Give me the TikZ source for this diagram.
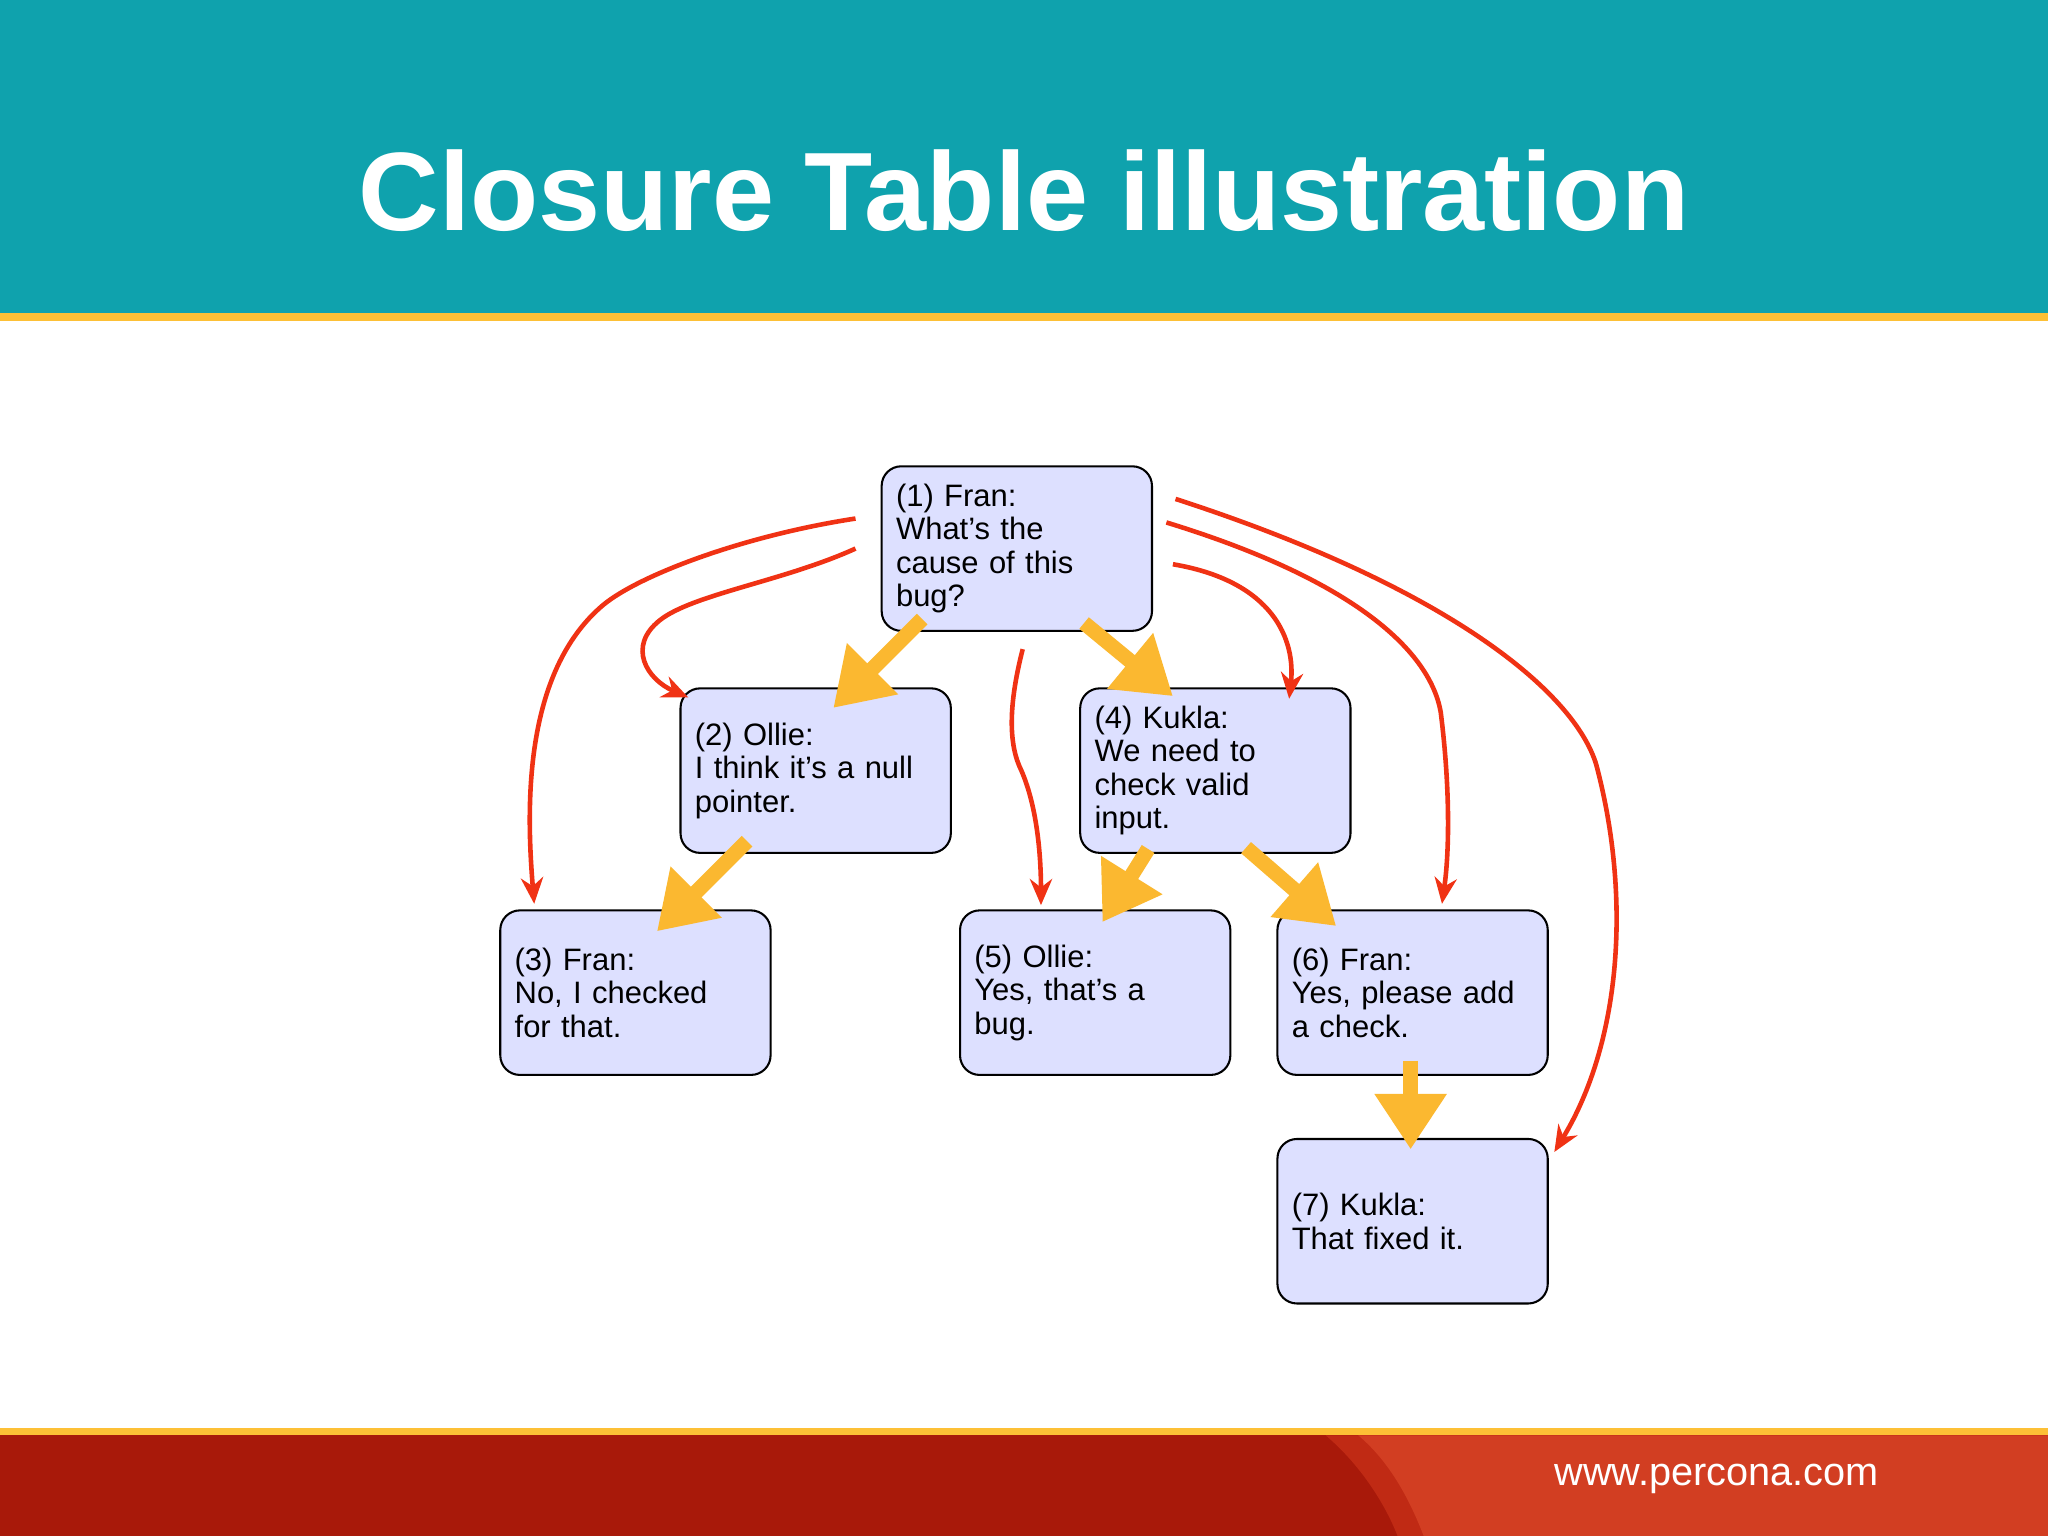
\documentclass[tikz,border=0pt]{standalone}
\usepackage{fontspec}
\setmainfont{Liberation Sans}
\usetikzlibrary{arrows.meta}
\definecolor{teal}{HTML}{0FA2AD}
\definecolor{gold}{HTML}{FDC036}
\definecolor{ybar}{HTML}{FBB830}
\definecolor{redA}{HTML}{A8190A}
\definecolor{redB}{HTML}{C02A14}
\definecolor{redC}{HTML}{D23E22}
\definecolor{boxfill}{HTML}{DDE0FF}
\definecolor{rarrow}{HTML}{F03214}
\tikzset{
  msg/.style={draw=black, line width=0.9pt, fill=boxfill, rounded corners=0.3cm,
    minimum width=4.14cm, minimum height=2.52cm, text width=3.7cm, align=left,
    font=\fontsize{13.5}{14.6}\selectfont, inner sep=0pt},
  yarr/.style={draw=ybar, line width=6.5pt, -{Triangle[width=1.05cm,length=0.85cm]}},
  rarr/.style={draw=rarrow, line width=2pt, -{Stealth[width=0.34cm,length=0.4cm]}}
}
\begin{document}
\begin{tikzpicture}[x=0.02cm,y=-0.02cm]
\useasboundingbox (0,0) rectangle (1568,1176);
\fill[white] (0,0) rectangle (1568,1176);
\fill[teal] (0,0) rectangle (1568,240);
\fill[gold] (0,240) rectangle (1568,246);
\node[text=white, font=\bfseries\fontsize{48.6}{54}\selectfont] (title) at (784,146) {Closure Table illustration};
\fill[gold] (0,1093) rectangle (1568,1099);
\fill[redA] (0,1099) rectangle (1568,1176);
\fill[redB] (1015,1099) .. controls (1040,1120) and (1060,1150) .. (1070,1176) -- (1568,1176) -- (1568,1099) -- cycle;
\fill[redC] (1040,1099) .. controls (1065,1120) and (1080,1150) .. (1090,1176) -- (1568,1176) -- (1568,1099) -- cycle;
\node[text=white, font=\fontsize{17.3}{20}\selectfont, anchor=west] (url) at (1184,1132) {www.percona.com};

\node[msg] (n1) at (778.5,420) {(1) Fran:\\What’s the\\cause of this\\bug?};
\node[msg] (n2) at (624.5,590) {(2) Ollie:\\I think it’s a null\\pointer.};
\node[msg] (n3) at (486.5,760) {(3) Fran:\\No, I checked\\for that.};
\node[msg] (n4) at (930.5,590) {(4) Kukla:\\We need to\\check valid\\input.};
\node[msg] (n5) at (838.5,760) {(5) Ollie:\\Yes, that’s a\\bug.};
\node[msg] (n6) at (1081.5,760) {(6) Fran:\\Yes, please add\\a check.};
\node[msg] (n7) at (1081.5,935) {(7) Kukla:\\That fixed it.};

% yellow parent arrows
\coordinate (a1) at (706,474); \coordinate (b1) at (638,542);
\coordinate (a2) at (830,477); \coordinate (b2) at (898,533);
\coordinate (a3) at (572,644); \coordinate (b3) at (503,713);
\coordinate (a4) at (879,650); \coordinate (b4) at (844,706);
\coordinate (a5) at (954,649); \coordinate (b5) at (1023,709);
\coordinate (a6) at (1080,812); \coordinate (b6) at (1080,880);
\draw[yarr] (a1) -- (b1);
\draw[yarr] (a2) -- (b2);
\draw[yarr] (a3) -- (b3);
\draw[yarr] (a4) -- (b4);
\draw[yarr] (a5) -- (b5);
\draw[yarr] (a6) -- (b6);

% red ancestor arrows
\coordinate (r1s) at (655,397); \coordinate (r1e) at (409,692);
\draw[rarr] (r1s) .. controls (570,410) and (490,440) .. (462,463) .. controls (400,515) and (403,620) .. (r1e);
\coordinate (r2s) at (655,420); \coordinate (r2e) at (527,534);
\draw[rarr] (r2s) .. controls (600,445) and (530,455) .. (505,475) .. controls (480,495) and (495,520) .. (r2e);
\coordinate (r3s) at (783,497); \coordinate (r3e) at (797,693);
\draw[rarr] (r3s) .. controls (772,540) and (772,570) .. (782,590) .. controls (795,620) and (797,660) .. (r3e);
\coordinate (r4s) at (898,432); \coordinate (r4e) at (987,535);
\draw[rarr] (r4s) .. controls (975,445) and (992,490) .. (r4e);
\coordinate (r5s) at (893,400); \coordinate (r5e) at (1104,692);
\draw[rarr] (r5s) .. controls (1040,445) and (1095,500) .. (1103,545) .. controls (1110,600) and (1110,650) .. (r5e);
\coordinate (r6s) at (900,382); \coordinate (r6e) at (1190,882);
\draw[rarr] (r6s) .. controls (1110,450) and (1205,530) .. (1222,585) .. controls (1250,690) and (1240,800) .. (r6e);
\end{tikzpicture}
\end{document}
